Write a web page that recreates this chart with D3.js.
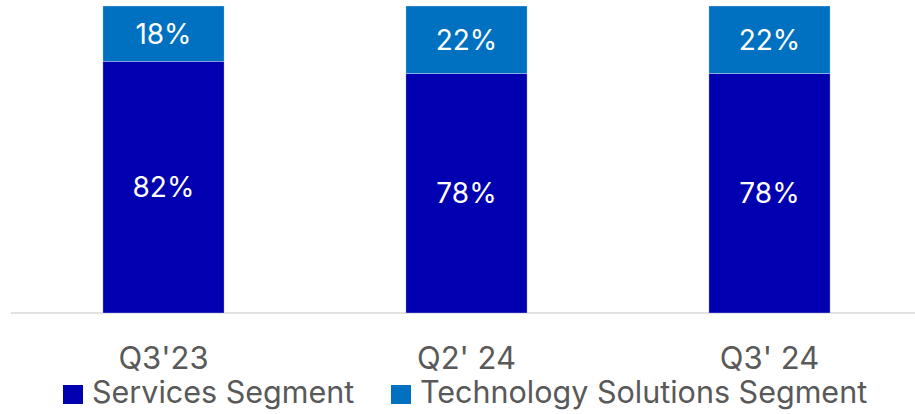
<!DOCTYPE html>
<html>
<head>
	<meta charset="UTF-8">
	<title>Segment mix</title>
	<script src="https://cdn.jsdelivr.net/npm/d3@7"></script>
	<style>
		body { margin: 0; background: #fff; }
		text { font-family: Inter, "Noto Sans", sans-serif; }
	</style>
</head>
<body>
	<svg id="chart" width="915" height="414"></svg>
	<script type="text/javascript">
	// chart data
	var quarters = ["Q3'23", "Q2' 24", "Q3' 24"];
	var services = [82, 78, 78];
	var technology = [18, 22, 22];
	var seriesNames = ["Services Segment", "Technology Solutions Segment"];
	var seriesColors = ["#0000b0", "#0070c0"];

	var width = 915, height = 414;
	var svg = d3.select("#chart");

	var x = d3.scaleBand().domain(quarters).range([12, 921]).paddingInner(0.6).paddingOuter(0.3);
	var y = d3.scaleLinear().domain([0, 100]).range([313, 6]);

	// axis line
	svg.append("line")
		.attr("x1", 11).attr("x2", 915)
		.attr("y1", y(0)).attr("y2", y(0))
		.attr("stroke", "#d9d9d9")
		.attr("stroke-width", 1.5);

	var rows = quarters.map(function(q, i) {
		return { q: q, services: services[i], technology: technology[i] };
	});
	var stack = d3.stack().keys(["services", "technology"])(rows);

	var groups = svg.selectAll("g.series")
		.data(stack)
		.enter().append("g")
		.attr("class", "series")
		.attr("fill", function(d, i) { return seriesColors[i]; });

	groups.selectAll("rect")
		.data(function(d) { return d; })
		.enter().append("rect")
		.attr("x", function(d) { return x(d.data.q); })
		.attr("width", x.bandwidth())
		.attr("y", function(d) { return y(d[1]); })
		.attr("height", function(d) { return y(d[0]) - y(d[1]); })
		.attr("stroke", "#ffffff")
		.attr("stroke-opacity", 0.5)
		.attr("stroke-width", 0.6);

	groups.selectAll("text")
		.data(function(d) { return d; })
		.enter().append("text")
		.attr("x", function(d) { return x(d.data.q) + x.bandwidth() / 2; })
		.attr("y", function(d) { return (y(d[0]) + y(d[1])) / 2; })
		.attr("dy", "0.36em")
		.attr("text-anchor", "middle")
		.attr("fill", "#ffffff")
		.style("font-size", "28px")
		.text(function(d) { return (d[1] - d[0]) + "%"; });

	// category labels
	svg.selectAll("text.cat")
		.data(quarters)
		.enter().append("text")
		.attr("class", "cat")
		.attr("x", function(d) { return x(d) + x.bandwidth() / 2; })
		.attr("y", 369)
		.attr("text-anchor", "middle")
		.attr("fill", "#595959")
		.style("font-size", "31px")
		.text(function(d) { return d; });

	// legend
	var legendX = [63, 391];
	var legend = svg.selectAll("g.legend")
		.data(seriesNames)
		.enter().append("g")
		.attr("class", "legend")
		.attr("transform", function(d, i) { return "translate(" + legendX[i] + ",0)"; });
	legend.append("rect")
		.attr("x", 0).attr("y", 385)
		.attr("width", 20).attr("height", 19)
		.attr("fill", function(d, i) { return seriesColors[i]; });
	legend.append("text")
		.attr("x", 29).attr("y", 403)
		.attr("fill", "#595959")
		.style("font-size", "30.5px")
		.text(function(d) { return d; });
	</script>
</body>
</html>
